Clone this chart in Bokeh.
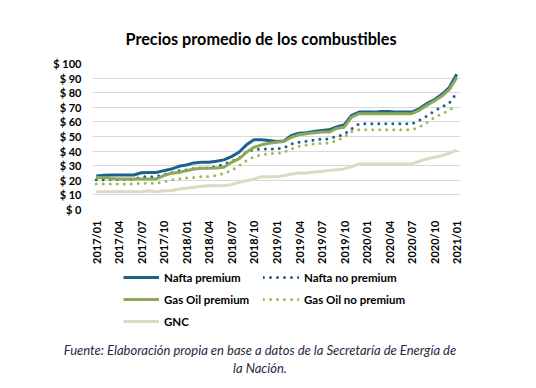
from bokeh.plotting import figure
from bokeh.layouts import column
from bokeh.models import (ColumnDataSource, FixedTicker, Legend, LegendItem, Div)
from bokeh.embed import file_html
from bokeh.resources import INLINE

months = [f"{y}/{m:02d}" for y in range(2017, 2021) for m in range(1, 13)] + ["2021/01"]
tick_labels = months[::3]
y_ticks = list(range(0, 101, 10))

nafta_premium = [22.9, 23.5, 23.6, 23.6, 23.6, 23.6, 25.2, 25.4, 25.4, 26.6, 27.7, 29.6,
                 30.5, 31.9, 32.3, 32.3, 33.0, 34.0, 36.2, 39.2, 44.3, 47.7, 47.7, 47.2,
                 46.5, 47.0, 50.7, 52.3, 52.5, 53.4, 54.1, 54.6, 56.5, 58.0, 64.4, 66.7,
                 66.7, 66.7, 67.2, 67.2, 66.7, 66.7, 66.7, 69.0, 72.5, 75.2, 78.7, 83.5, 92.6]
nafta_no_premium = [20.4, 20.4, 20.6, 20.6, 20.6, 20.6, 22.5, 22.5, 22.5, 24.0, 25.0, 26.5,
                    27.0, 28.0, 28.5, 28.5, 29.5, 31.0, 33.0, 35.1, 39.7, 41.0, 41.5, 41.5,
                    41.5, 42.2, 45.0, 46.1, 46.8, 47.5, 48.2, 48.4, 50.1, 51.4, 55.3, 58.7,
                    58.7, 58.7, 58.7, 58.7, 58.7, 58.7, 58.7, 61.0, 64.0, 67.4, 70.2, 72.9, 79.8]
gasoil_premium = [22.0, 22.0, 21.3, 20.9, 20.9, 20.9, 20.9, 20.9, 20.9, 23.2, 24.8, 25.4,
                  26.6, 27.7, 28.2, 28.2, 28.5, 29.0, 32.3, 34.7, 39.2, 42.6, 44.3, 45.4,
                  46.1, 46.6, 49.5, 51.2, 51.9, 52.5, 53.0, 53.0, 55.5, 56.4, 63.3, 65.6,
                  65.6, 65.6, 65.6, 65.6, 65.6, 65.6, 65.6, 67.9, 71.3, 74.3, 77.5, 82.1, 90.4]
gasoil_no_premium = [17.4, 17.4, 17.4, 17.4, 17.4, 17.4, 18.0, 18.0, 18.0, 19.0, 20.2, 20.9,
                     21.6, 22.0, 22.5, 22.7, 23.2, 24.8, 26.6, 30.0, 33.5, 36.2, 37.6, 38.1,
                     38.5, 39.2, 41.5, 43.3, 44.3, 45.0, 45.2, 45.7, 47.0, 49.5, 53.4, 54.6,
                     54.6, 54.6, 54.6, 54.6, 54.6, 54.6, 54.6, 56.4, 59.4, 62.9, 65.6, 67.9, 72.0]
gnc = [12.2, 12.2, 12.2, 12.2, 12.2, 12.2, 12.2, 12.9, 12.1, 12.8, 12.9, 14.0,
       14.5, 15.2, 15.9, 16.3, 16.2, 16.5, 17.0, 18.6, 19.7, 20.9, 22.5, 22.5,
       22.5, 23.2, 24.3, 25.0, 25.0, 25.7, 26.1, 26.8, 27.3, 27.8, 29.4, 31.2,
       31.2, 31.2, 31.2, 31.2, 31.2, 31.2, 31.2, 33.0, 34.6, 35.8, 36.9, 38.5, 40.8]

series_names = ["Nafta premium", "Nafta no premium", "Gas Oil premium",
                "Gas Oil no premium", "GNC"]
title_text = "Precios promedio de los combustibles"
footer_lines = ["Fuente: Elaboración propia en base a datos de la Secretaría de Energía de",
                "la Nación."]

x = list(range(len(months)))
src = ColumnDataSource(dict(x=x, np=nafta_premium, nnp=nafta_no_premium,
                            gp=gasoil_premium, gnp=gasoil_no_premium, gnc=gnc))
cols = ["np", "nnp", "gp", "gnp", "gnc"]

FONT = "Lato"
BLUE = "#1F618D"
GREEN = "#8DA858"
LGREEN = "#9BBB59"
BEIGE = "#DDD9C3"
styles = [dict(line_color=BLUE, line_width=3),
          dict(line_color=BLUE, line_width=3, line_dash="0 7", line_cap="round"),
          dict(line_color=GREEN, line_width=3),
          dict(line_color=LGREEN, line_width=3, line_dash="0 7", line_cap="round"),
          dict(line_color=BEIGE, line_width=3)]

# ---------------- main chart ----------------
fig = figure(width=520, height=267, output_backend="svg", toolbar_location=None,
             x_range=(-0.5, len(months) - 0.5), y_range=(0, 100),
             min_border_left=92, min_border_right=60, min_border_top=63,
             min_border_bottom=58)
fig.outline_line_color = None
fig.background_fill_color = "white"
fig.border_fill_color = "white"

fig.title.text = title_text
fig.title.text_font = FONT
fig.title.text_font_size = "16.2px"
fig.title.text_font_style = "bold"
fig.title.align = "left"
fig.title.offset = 33
fig.title.standoff = 32
fig.title.text_color = "black"

for col, st in zip(cols, styles):
    fig.line("x", col, source=src, **st)

fig.xaxis.ticker = FixedTicker(ticks=x[::3])
fig.xaxis.major_label_overrides = {i: lab for i, lab in zip(x[::3], tick_labels)}
fig.xaxis.major_label_orientation = 1.5708
fig.yaxis.ticker = FixedTicker(ticks=y_ticks)
fig.yaxis.major_label_overrides = {v: f"$ {v}" for v in y_ticks}
for ax in (fig.xaxis, fig.yaxis):
    ax.axis_line_color = None
    ax.major_tick_line_color = None
    ax.minor_tick_line_color = None
    ax.major_label_text_font = FONT
    ax.major_label_text_font_size = "11px"
    ax.major_label_text_font_style = "bold"
    ax.major_label_text_color = "black"
fig.xaxis.major_label_standoff = 5
fig.yaxis.major_label_standoff = 5

fig.xgrid.grid_line_color = None
fig.ygrid.grid_line_color = "#D9D9D9"
fig.ygrid.grid_line_width = 1

# ---------------- legend strip ----------------
# ranges chosen so the legend-only copies of the series fall outside the view
foot = figure(width=520, height=64, output_backend="svg", toolbar_location=None,
              x_range=(-1000, -480), y_range=(-1000, -936),
              min_border_left=92, min_border_right=60, min_border_top=0,
              min_border_bottom=0, x_axis_type=None, y_axis_type=None)
foot.outline_line_color = None
foot.grid.visible = False
foot.background_fill_color = "white"
foot.border_fill_color = "white"
rends = [foot.line("x", col, source=src, **st) for col, st in zip(cols, styles)]

order = [0, 2, 4, 1, 3]  # column-first fill for 2 columns x 3 rows
legend = Legend(items=[LegendItem(label=series_names[i], renderers=[rends[i]]) for i in order],
                ncols=2, location=(31, 2))
legend.border_line_color = None
legend.background_fill_alpha = 0
legend.label_text_font = FONT
legend.label_text_font_size = "11.5px"
legend.label_text_font_style = "bold"
legend.label_text_color = "black"
legend.glyph_width = 36
legend.glyph_height = 16
legend.label_standoff = 5
legend.spacing = 6
legend.label_width = 93
legend.padding = 0
legend.margin = 0
foot.add_layout(legend, "center")

# ---------------- source note ----------------
note = Div(text=('<div style="font-family:Lato;font-style:italic;font-size:13px;'
                 'color:#1F2A44;text-align:center;line-height:18px;padding-top:10px;'
                 'padding-left:4px;width:516px;margin:0">'
                 + footer_lines[0] + "<br>" + footer_lines[1] + "</div>"),
           width=520, height=46, margin=0)

p = column(fig, foot, note, spacing=0)
open("out.html", "w").write(file_html(p, INLINE))
